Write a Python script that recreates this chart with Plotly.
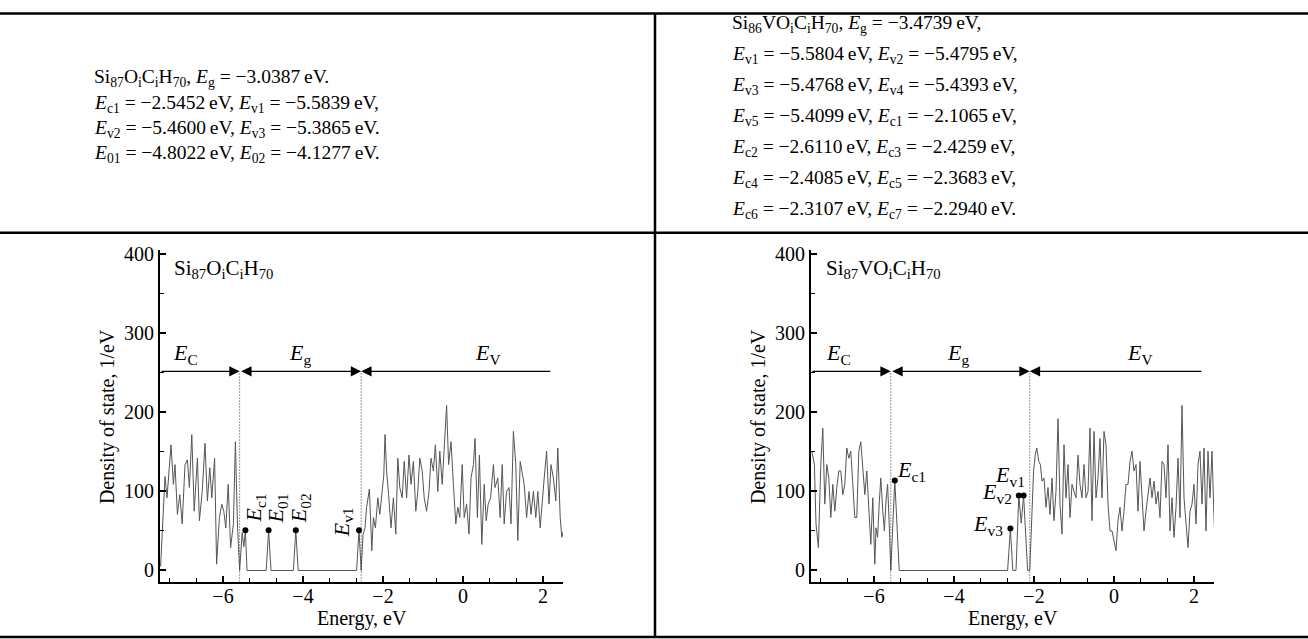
import plotly.graph_objects as go

# ---------------- data ----------------
left_energy = [-7.56, -7.50, -7.45, -7.40, -7.30, -7.24, -7.20, -7.14, -7.08, -7.02, -6.95, -6.89, -6.84,
               -6.78, -6.72, -6.64, -6.59, -6.52, -6.45, -6.39, -6.33, -6.28, -6.21, -6.16, -6.09, -6.03,
               -5.98, -5.93, -5.87, -5.81, -5.74, -5.69, -5.64, -5.584,
               -5.52, -5.48, -5.44, -5.40, -4.92, -4.86, -4.80, -4.24, -4.18, -4.12, -2.66, -2.60, -2.545,
               -2.50, -2.45, -2.41, -2.34, -2.28, -2.24, -2.19, -2.13, -2.08, -2.03, -1.98, -1.95, -1.91,
               -1.86, -1.80, -1.74, -1.68, -1.63, -1.58, -1.52, -1.47, -1.41, -1.35, -1.30, -1.24, -1.18,
               -1.13, -1.08, -1.02, -0.97, -0.91, -0.85, -0.80, -0.74, -0.69, -0.63, -0.58, -0.52, -0.47,
               -0.41, -0.36, -0.30, -0.24, -0.18, -0.13, -0.08, -0.02, 0.03, 0.09, 0.15, 0.20, 0.26, 0.30,
               0.36, 0.41, 0.47, 0.53, 0.58, 0.63, 0.69, 0.76, 0.80, 0.87, 0.93, 0.98, 1.03, 1.09, 1.15,
               1.20, 1.26, 1.32, 1.37, 1.43, 1.48, 1.53, 1.59, 1.65, 1.70, 1.76, 1.82, 1.87, 1.93, 1.98,
               2.03, 2.09, 2.15, 2.20, 2.26, 2.32, 2.37, 2.43, 2.47, 2.51]
left_dos = [5, 67, 119, 92, 159, 109, 134, 71, 96, 59, 134, 140, 105,
            172, 75, 142, 63, 100, 161, 88, 130, 92, 142, 8, 67, 84,
            75, 54, 109, 29, 59, 163, 60, 0,
            48, 30, 51, 0, 0, 51, 0, 0, 51, 0, 0, 51, 0,
            45, 54, 80, 103, 25, 67, 54, 92, 71, 100, 121, 172, 126,
            96, 54, 92, 46, 142, 105, 92, 138, 92, 146, 109, 138, 75,
            100, 142, 126, 92, 75, 100, 142, 126, 159, 100, 151, 109, 159,
            209, 134, 163, 109, 59, 80, 67, 134, 67, 84, 46, 117, 134, 167,
            67, 146, 33, 109, 63, 84, 92, 134, 105, 117, 67, 134, 59, 100, 105,
            59, 176, 134, 38, 138, 121, 109, 67, 100, 71, 100, 67, 100, 54, 92,
            117, 151, 84, 134, 117, 88, 155, 67, 42, 50]

right_energy = [-7.55, -7.49, -7.45, -7.39, -7.33, -7.28, -7.23, -7.18, -7.13, -7.08, -7.03, -6.98, -6.93,
                -6.88, -6.83, -6.78, -6.73, -6.68, -6.63, -6.58, -6.53, -6.48, -6.43, -6.38, -6.33, -6.28,
                -6.23, -6.18, -6.13, -6.08, -6.03, -5.98, -5.95, -5.91, -5.87, -5.83, -5.78, -5.74, -5.70,
                -5.66, -5.62, -5.58,
                -5.48, -5.44, -5.37, -2.66, -2.59, -2.53, -2.45, -2.38, -2.32, -2.26, -2.16, -2.1065,
                -2.06, -2.01, -1.97, -1.93, -1.88, -1.84, -1.80, -1.75, -1.70, -1.65, -1.60, -1.55, -1.50,
                -1.45, -1.40, -1.35, -1.30, -1.25, -1.20, -1.15, -1.10, -1.05, -1.00, -0.95, -0.90, -0.85,
                -0.80, -0.75, -0.70, -0.65, -0.60, -0.55, -0.50, -0.45, -0.40, -0.35, -0.30, -0.25, -0.20,
                -0.15, -0.10, -0.05, 0.05, 0.10, 0.15, 0.20, 0.25, 0.30, 0.35, 0.40, 0.45, 0.50, 0.55, 0.60,
                0.65, 0.70, 0.75, 0.80, 0.85, 0.90, 0.95, 1.00, 1.05, 1.10, 1.15, 1.20, 1.25, 1.30, 1.35,
                1.40, 1.45, 1.50, 1.55, 1.60, 1.65, 1.70, 1.75, 1.80, 1.85, 1.90, 1.95, 2.00, 2.05, 2.10,
                2.15, 2.20, 2.25, 2.30, 2.35, 2.40, 2.45, 2.50, 2.53]
right_dos = [150, 134, 59, 29, 134, 180, 84, 134, 117, 67, 109, 75, 105,
             126, 126, 96, 109, 155, 142, 151, 109, 67, 67, 151, 163, 126,
             96, 126, 75, 33, 92, 8, 54, 42, 84, 117, 75, 50, 88,
             109, 59, 0,
             114, 70, 0, 0, 53, 0, 0, 95, 60, 95, 0, 0,
             59, 126, 146, 155, 138, 134, 113, 117, 80, 105, 71, 117, 63,
             100, 192, 84, 46, 159, 92, 134, 67, 109, 100, 92, 146, 109,
             92, 134, 92, 100, 180, 63, 176, 92, 117, 167, 92, 176, 159,
             84, 50, 50, 25, 63, 80, 50, 75, 109, 109, 138, 151, 126, 134, 75,
             138, 84, 50, 75, 96, 117, 92, 113, 84, 100, 67, 138, 134, 92, 159,
             50, 92, 42, 80, 142, 67, 209, 92, 59, 29, 75, 84, 109, 59, 134,
             151, 84, 155, 50, 151, 92, 151, 67, 33]

left_mark_energy = [-5.44, -4.86, -4.18, -2.60]
left_mark_dos = [51, 51, 51, 51]
left_mark_names = ["c1", "01", "02", "v1"]

right_mark_energy = [-5.48, -2.59, -2.38, -2.26]
right_mark_dos = [114, 53, 95, 95]
right_mark_names = ["c1", "v3", "v2", "v1"]

left_bounds = [-5.5839, -2.5452]     # band edges (dotted lines)
right_bounds = [-5.5804, -2.1065]
arrow_level = 252
arrow_end = 2.22

x_ticks = [-6, -4, -2, 0, 2]
y_ticks = [0, 100, 200, 300, 400]

left_title = "Si<sub>87</sub>O<sub>i</sub>C<sub>i</sub>H<sub>70</sub>"
right_title = "Si<sub>87</sub>VO<sub>i</sub>C<sub>i</sub>H<sub>70</sub>"

EQ = " = "
EV = "\u2009eV"
left_text = [
    "Si<sub>87</sub>O<sub>i</sub>C<sub>i</sub>H<sub>70</sub>, <i>E</i><sub>g</sub>" + EQ + "\u22123.0387" + EV + ".",
    "<i>E</i><sub>c1</sub>" + EQ + "\u22122.5452" + EV + ", <i>E</i><sub>v1</sub>" + EQ + "\u22125.5839" + EV + ",",
    "<i>E</i><sub>v2</sub>" + EQ + "\u22125.4600" + EV + ", <i>E</i><sub>v3</sub>" + EQ + "\u22125.3865" + EV + ".",
    "<i>E</i><sub>01</sub>" + EQ + "\u22124.8022" + EV + ", <i>E</i><sub>02</sub>" + EQ + "\u22124.1277" + EV + ".",
]
right_text = [
    "Si<sub>86</sub>VO<sub>i</sub>C<sub>i</sub>H<sub>70</sub>, <i>E</i><sub>g</sub>" + EQ + "\u22123.4739" + EV + ",",
    "<i>E</i><sub>v1</sub>" + EQ + "\u22125.5804" + EV + ", <i>E</i><sub>v2</sub>" + EQ + "\u22125.4795" + EV + ",",
    "<i>E</i><sub>v3</sub>" + EQ + "\u22125.4768" + EV + ", <i>E</i><sub>v4</sub>" + EQ + "\u22125.4393" + EV + ",",
    "<i>E</i><sub>v5</sub>" + EQ + "\u22125.4099" + EV + ", <i>E</i><sub>c1</sub>" + EQ + "\u22122.1065" + EV + ",",
    "<i>E</i><sub>c2</sub>" + EQ + "\u22122.6110" + EV + ", <i>E</i><sub>c3</sub>" + EQ + "\u22122.4259" + EV + ",",
    "<i>E</i><sub>c4</sub>" + EQ + "\u22122.4085" + EV + ", <i>E</i><sub>c5</sub>" + EQ + "\u22122.3683" + EV + ",",
    "<i>E</i><sub>c6</sub>" + EQ + "\u22122.3107" + EV + ", <i>E</i><sub>c7</sub>" + EQ + "\u22122.2940" + EV + ".",
]

# ---------------- figure ----------------
W, H = 1308, 639
FONT = "Liberation Serif, Times New Roman, serif"
FS = 20

def px(xp):
    return xp / W

def py(yp):
    return 1 - yp / H

fig = go.Figure()

for xa, ya, ex, dos, mx, my in [
    ("x", "y", left_energy, left_dos, left_mark_energy, left_mark_dos),
    ("x2", "y2", right_energy, right_dos, right_mark_energy, right_mark_dos),
]:
    fig.add_trace(go.Scatter(x=ex, y=dos, mode="lines", xaxis=xa, yaxis=ya,
                             line=dict(color="#555555", width=1), showlegend=False, hoverinfo="skip"))
    fig.add_trace(go.Scatter(x=mx, y=my, mode="markers", xaxis=xa, yaxis=ya,
                             marker=dict(color="black", size=6), showlegend=False, hoverinfo="skip"))

axis_common = dict(
    showline=True, linewidth=2, linecolor="black", mirror=False,
    showgrid=False, zeroline=False, ticks="inside", ticklen=6, tickwidth=1.5, tickcolor="black",
    tickfont=dict(family=FONT, size=FS, color="black"),
)
xr = [-7.575, 2.5]
yr = [-14, 406]
xdom1 = [px(160), px(563)]
xdom2 = [px(811), px(1214)]
ydom = [py(581), py(246)]
xminor = dict(dtick=2/3, tick0=0, ticks="inside", ticklen=4, tickwidth=1.2, tickcolor="black")
yminor = dict(dtick=50, tick0=0, ticks="inside", ticklen=4, tickwidth=1.2, tickcolor="black")

fig.update_layout(
    width=W, height=H, margin=dict(l=0, r=0, t=0, b=0),
    paper_bgcolor="white", plot_bgcolor="white",
    xaxis=dict(domain=xdom1, range=xr, tickvals=x_ticks, anchor="y", minor=xminor,
               ticklabelstandoff=-5, **axis_common),
    yaxis=dict(domain=ydom, range=yr, tickvals=y_ticks, anchor="x", minor=yminor, **axis_common),
    xaxis2=dict(domain=xdom2, range=xr, tickvals=x_ticks, anchor="y2", minor=xminor,
                ticklabelstandoff=-5, **axis_common),
    yaxis2=dict(domain=ydom, range=yr, tickvals=y_ticks, anchor="x2", minor=yminor, **axis_common),
)

shapes = []
lw = 2.5
for yy in [7.5, 229, 637]:
    shapes.append(dict(type="line", xref="paper", yref="paper", x0=0, x1=1, y0=py(yy), y1=py(yy),
                       line=dict(color="black", width=lw)))
shapes.append(dict(type="line", xref="paper", yref="paper", x0=px(655), x1=px(655), y0=py(7.5), y1=py(637),
                   line=dict(color="black", width=lw)))
for xa, ya, bounds in [("x", "y", left_bounds), ("x2", "y2", right_bounds)]:
    for b in bounds:
        shapes.append(dict(type="line", xref=xa, yref=ya, x0=b, x1=b, y0=yr[0], y1=arrow_level,
                           line=dict(color="#333333", width=1, dash="1px,2px")))
fig.update_layout(shapes=shapes)

ann = []
tf = dict(family=FONT, size=FS, color="black")
tf_top = dict(family=FONT, size=19.5, color="black")
tf_lab = dict(family=FONT, size=22, color="black")
tf_title = dict(family=FONT, size=21, color="black")

# top text cells
for i, t in enumerate(left_text):
    ann.append(dict(xref="paper", yref="paper", x=px(92), y=py(73 + 25.5 * i), text=t, showarrow=False,
                    xanchor="left", yanchor="middle", font=tf_top))
for i, t in enumerate(right_text):
    ann.append(dict(xref="paper", yref="paper", x=px(730), y=py(18 + 31.3 * i), text=t, showarrow=False,
                    xanchor="left", yanchor="middle", font=tf_top))

# axis titles
for cx in [361.5, 1012.5]:
    ann.append(dict(xref="paper", yref="paper", x=px(cx), y=py(618), text="Energy, eV", showarrow=False,
                    xanchor="center", yanchor="middle", font=tf))
for cx in [107, 758]:
    ann.append(dict(xref="paper", yref="paper", x=px(cx), y=py(415), text="Density of state, 1/eV",
                    showarrow=False, textangle=-90, xanchor="center", yanchor="middle", font=tf))

# arrows and band labels
for xa, ya, bounds, lab_x, title, tx in [
    ("x", "y", left_bounds, [-6.93, -4.08, 0.63], left_title, -7.27),
    ("x2", "y2", right_bounds, [-6.90, -3.90, 0.65], right_title, -7.24),
]:
    arrow = dict(xref=xa, yref=ya, axref=xa, ayref=ya, text="", showarrow=True,
                 arrowhead=2, arrowsize=1.6, arrowwidth=1.3, arrowcolor="black", standoff=0, startstandoff=0)
    ann.append(dict(x=bounds[0], y=arrow_level, ax=xr[0], ay=arrow_level, **arrow))
    ann.append(dict(x=bounds[1], y=arrow_level, ax=bounds[0], ay=arrow_level, arrowside="end+start",
                    startarrowhead=2, startarrowsize=1.6, **arrow))
    ann.append(dict(x=bounds[1], y=arrow_level, ax=arrow_end, ay=arrow_level, **arrow))
    for lx, sub in zip(lab_x, ["C", "g", "V"]):
        ann.append(dict(xref=xa, yref=ya, x=lx, y=274, text="<i>E</i><sub>" + sub + "</sub>",
                        showarrow=False, xanchor="center", yanchor="middle", font=tf_lab))
    ann.append(dict(xref=xa, yref=ya, x=tx, y=381, text=title, showarrow=False,
                    xanchor="left", yanchor="middle", font=tf_title))

# left peak labels (rotated)
left_label_pos = [(-5.19, 79), (-4.64, 79), (-4.07, 79), (-3.00, 61)]
for (lx, ly), name in zip(left_label_pos, left_mark_names):
    ann.append(dict(xref="x", yref="y", x=lx, y=ly, text="<i>E</i><sub>" + name + "</sub>",
                    showarrow=False, textangle=-90, xanchor="center", yanchor="middle", font=tf_lab))

# right peak labels
right_label_pos = [(-5.47, 126, "left"), (-2.72, 58, "right"), (-2.49, 98, "right"), (-2.18, 119, "right")]
for (lx, ly, anc), name in zip(right_label_pos, right_mark_names):
    ann.append(dict(xref="x2", yref="y2", x=lx, y=ly, text="<i>E</i><sub>" + name + "</sub>",
                    showarrow=False, xanchor=anc, yanchor="middle", font=tf_lab))

fig.update_layout(annotations=ann)
fig.write_html("out.html")
